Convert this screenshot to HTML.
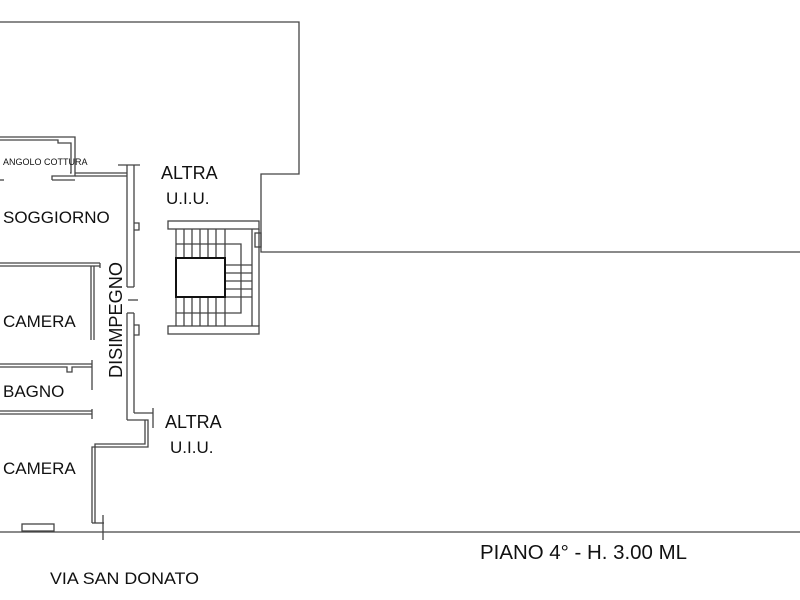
<!DOCTYPE html>
<html><head><meta charset="utf-8"><style>
html,body{margin:0;padding:0;background:#fff;}
svg{display:block;}
text{font-family:"Liberation Sans",Arial,sans-serif;fill:#111;}
</style></head><body>
<svg width="800" height="600" viewBox="0 0 800 600" xmlns="http://www.w3.org/2000/svg">
<g fill="none" stroke="#444" stroke-width="1.3">
<polyline points="0,22 299,22 299,174 261,174 261,252 800,252"/>
<line x1="0" y1="532" x2="800" y2="532"/>
<polyline points="0,137 75,137 75,176 52,176 52,180"/>
<polyline points="0,140 58,140 58,143 71,143 71,173 70,173"/>
<line x1="52" y1="180" x2="75" y2="180"/>
<polyline points="75,173 127,173"/>
<polyline points="75,176 127,176"/>
<line x1="0" y1="180" x2="4" y2="180"/>
<line x1="118" y1="165" x2="140" y2="165"/>
<line x1="127" y1="165" x2="127" y2="287"/>
<line x1="134" y1="165" x2="134" y2="287"/>
<line x1="127" y1="287" x2="134" y2="287"/>
<polyline points="134,223 139,223 139,230 134,230"/>
<line x1="128" y1="300" x2="138" y2="300"/>
<line x1="127" y1="313" x2="134" y2="313"/>
<line x1="127" y1="313" x2="127" y2="420"/>
<line x1="134" y1="313" x2="134" y2="413"/>
<polyline points="134,325 139,325 139,335 134,335"/>
<polyline points="134,413 153,413"/>
<line x1="153" y1="408" x2="153" y2="428"/>
<polyline points="127,420 148,420 148,447 92,447 92,523"/>
<polyline points="145,420 145,444 95,444 95,523"/>
<line x1="92" y1="523" x2="104" y2="523"/>
<line x1="103" y1="515" x2="103" y2="540"/>
<rect x="22" y="524" width="32" height="7"/>
<line x1="0" y1="263" x2="100" y2="263"/>
<line x1="0" y1="266" x2="100" y2="266"/>
<line x1="100" y1="263" x2="100" y2="268"/>
<line x1="91" y1="266" x2="91" y2="340"/>
<line x1="94" y1="266" x2="94" y2="340"/>
<line x1="0" y1="364" x2="92" y2="364"/>
<line x1="0" y1="367" x2="62" y2="367"/>
<polyline points="62,367 67,367 67,372 72,372 72,367 80,367 80,367 92,367"/>
<line x1="92" y1="360" x2="92" y2="390"/>
<line x1="0" y1="411" x2="92" y2="411"/>
<line x1="0" y1="414" x2="92" y2="414"/>
<line x1="92" y1="409" x2="92" y2="419"/>
<rect x="168" y="221" width="91" height="8"/>
<rect x="168" y="326" width="91" height="8"/>
<line x1="252" y1="229" x2="252" y2="326"/>
<line x1="259" y1="229" x2="259" y2="326"/>
<rect x="255" y="233" width="6" height="14"/>
<polyline points="176,229 176,326"/>
<polyline points="176,244 241,244 241,313 176,313"/>
<line x1="184" y1="229" x2="184" y2="258"/><line x1="192" y1="229" x2="192" y2="258"/>
<line x1="200" y1="229" x2="200" y2="258"/><line x1="208" y1="229" x2="208" y2="258"/>
<line x1="216" y1="229" x2="216" y2="258"/><line x1="225" y1="229" x2="225" y2="258"/>
<line x1="184" y1="297" x2="184" y2="326"/><line x1="192" y1="297" x2="192" y2="326"/>
<line x1="200" y1="297" x2="200" y2="326"/><line x1="208" y1="297" x2="208" y2="326"/>
<line x1="216" y1="297" x2="216" y2="326"/><line x1="225" y1="297" x2="225" y2="326"/>
<line x1="225" y1="265" x2="252" y2="265"/><line x1="225" y1="273" x2="252" y2="273"/>
<line x1="225" y1="281" x2="252" y2="281"/><line x1="225" y1="289" x2="252" y2="289"/>
<line x1="225" y1="297" x2="252" y2="297"/><line x1="225" y1="258" x2="225" y2="297"/>
</g>
<rect x="176" y="258" width="49" height="39" fill="none" stroke="#111" stroke-width="2"/>
<text x="3" y="165" font-size="9">ANGOLO COTTURA</text>
<text x="3" y="223" font-size="17">SOGGIORNO</text>
<text x="3" y="327" font-size="17">CAMERA</text>
<text x="3" y="397" font-size="17">BAGNO</text>
<text x="3" y="474" font-size="17">CAMERA</text>
<text transform="translate(122,378) rotate(-90)" font-size="18" textLength="116" lengthAdjust="spacingAndGlyphs">DISIMPEGNO</text>
<text x="161" y="179" font-size="18">ALTRA</text>
<text x="166" y="204" font-size="17">U.I.U.</text>
<text x="165" y="428" font-size="18">ALTRA</text>
<text x="170" y="453" font-size="17">U.I.U.</text>
<text x="480" y="559" font-size="20" textLength="207" lengthAdjust="spacingAndGlyphs">PIANO 4° - H. 3.00 ML</text>
<text x="50" y="584" font-size="17" textLength="149" lengthAdjust="spacingAndGlyphs">VIA SAN DONATO</text>
</svg>
</body></html>
